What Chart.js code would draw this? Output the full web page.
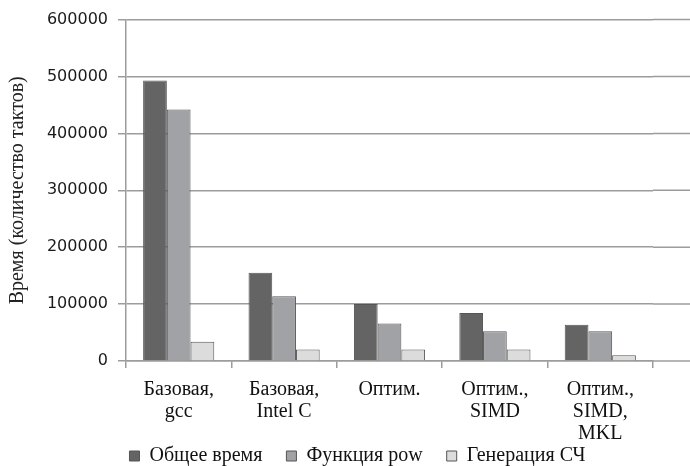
<!DOCTYPE html>
<html>
<head>
<meta charset="utf-8">
<script src="https://cdn.jsdelivr.net/npm/chart.js@4/dist/chart.umd.min.js"></script>
<style>
  html, body { margin: 0; padding: 0; background: #ffffff; }
  canvas { display: block; }
</style>
</head>
<body>
<canvas id="chart" width="690" height="466"></canvas>
<script>
// Categories (implementation variants)
const categories = [
  ['Базовая,', 'gcc'],
  ['Базовая,', 'Intel C'],
  'Оптим.',
  ['Оптим.,', 'SIMD'],
  ['Оптим.,', 'SIMD,', 'MKL']
];

// Series values, clock ticks
const totalTime = [493000, 155000, 100000, 84500, 63500];
const powTime   = [442000, 114000, 66000, 52500, 52500];
const rngTime   = [34000, 20000, 20000, 20000, 10000];

// Series names
const seriesNames = ['Общее время', 'Функция pow', 'Генерация СЧ'];

// Value axis ticks
const yTicks = [0, 100000, 200000, 300000, 400000, 500000, 600000];

const GRID = '#9c9c9c';
const EDGE = '#555555';

// Carries the horizontal grid and the baseline on to the right edge of the canvas
const gridTail = {
  id: 'gridTail',
  beforeDatasetsDraw(chart) {
    const { ctx, chartArea, scales } = chart;
    ctx.save();
    ctx.strokeStyle = GRID;
    ctx.lineWidth = 1.5;
    yTicks.forEach(v => {
      const y = scales.y.getPixelForValue(v);
      ctx.beginPath();
      ctx.moveTo(chartArea.right, y);
      ctx.lineTo(chart.width, y);
      ctx.stroke();
    });
    ctx.restore();
  }
};

// Places the legend block below the axis labels and lets the
// multi-line category labels run past the axis box without clipping
const legendPlace = {
  id: 'legendPlace',
  afterLayout(chart) {
    const lg = chart.legend;
    lg.left += 56;
    lg.top += 10;
    lg.bottom += 10;
    chart.scales.x.bottom += 45;
  }
};

new Chart(document.getElementById('chart'), {
  type: 'bar',
  data: {
    labels: categories,
    datasets: [
      { label: seriesNames[0], data: totalTime, backgroundColor: '#646464', borderColor: EDGE, borderWidth: 1 },
      { label: seriesNames[1], data: powTime,   backgroundColor: '#a1a2a5', borderColor: EDGE, borderWidth: 1 },
      { label: seriesNames[2], data: rngTime,   backgroundColor: '#dcdcdc', borderColor: EDGE, borderWidth: 1 }
    ]
  },
  options: {
    responsive: false,
    animation: false,
    events: [],
    layout: { padding: { left: 6, right: 37, top: 18, bottom: 0 } },
    datasets: { bar: { barPercentage: 1, categoryPercentage: 0.675 } },
    plugins: {
      tooltip: { enabled: false },
      legend: {
        position: 'bottom',
        labels: {
          boxWidth: 10,
          boxHeight: 10,
          padding: 24,
          color: '#111111',
          font: { family: '"Liberation Serif", "Times New Roman", serif', size: 20 }
        }
      }
    },
    scales: {
      x: {
        afterFit(scale) { scale.height = 51; },
        grid: { display: true, drawOnChartArea: false, drawTicks: true, tickLength: 7, color: GRID, lineWidth: 1.5, offset: true },
        border: { display: true, color: GRID, width: 1.5 },
        ticks: {
          padding: 11,
          maxRotation: 0,
          autoSkip: false,
          color: '#111111',
          font: { family: '"Liberation Serif", "Times New Roman", serif', size: 20, lineHeight: 1.1 }
        }
      },
      y: {
        min: 0,
        max: 600000,
        afterFit(scale) { scale.width = 120; },
        afterBuildTicks(scale) { scale.ticks = yTicks.map(v => ({ value: v })); },
        grid: { color: GRID, lineWidth: 1.5, drawTicks: true, tickLength: 8 },
        border: { display: true, color: GRID, width: 1.5 },
        ticks: {
          padding: 10,
          color: '#1a1a1a',
          font: { family: '"DejaVu Sans", Verdana, sans-serif', size: 16 },
          callback: v => String(v)
        },
        title: {
          display: true,
          text: 'Время (количество тактов)',
          color: '#222222',
          padding: { top: 0, bottom: 0 },
          font: { family: '"Liberation Serif", "Times New Roman", serif', size: 20, lineHeight: 1.2 }
        }
      }
    }
  },
  plugins: [gridTail, legendPlace]
});
</script>
</body>
</html>
